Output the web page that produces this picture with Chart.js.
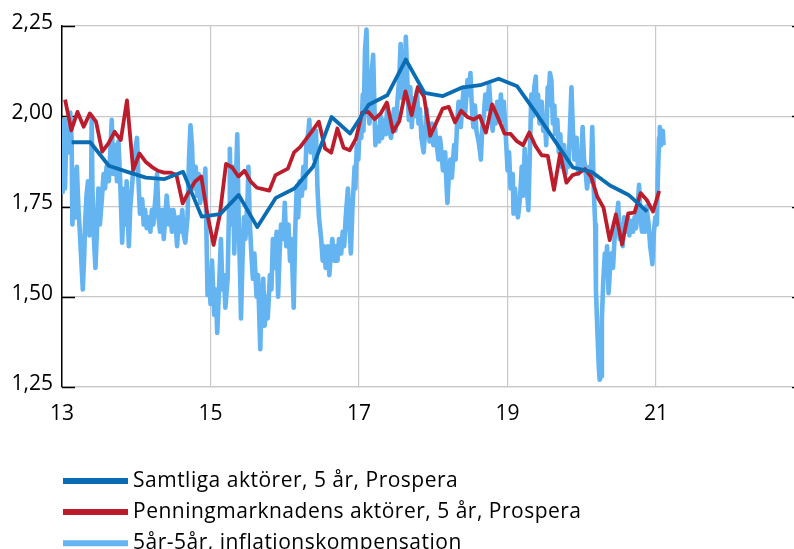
<!DOCTYPE html>
<html>
<head>
<meta charset="utf-8">
<script src="https://cdn.jsdelivr.net/npm/chart.js@4.4.1/dist/chart.umd.min.js"></script>
<style>
  html, body { margin: 0; padding: 0; background: #fff; }
  canvas { display: block; }
</style>
</head>
<body>
<canvas id="chart" width="794" height="549" style="width:794px;height:549px"></canvas>
<script>
// axis ticks
var xTicks = [13, 15, 17, 19, 21];
var xTickLabels = ['13', '15', '17', '19', '21'];
var yTicks = [1.25, 1.5, 1.75, 2.0, 2.25];
var yTickLabels = ['1,25', '1,50', '1,75', '2,00', '2,25'];

// Samtliga aktörer, 5 år (quarterly)
var samtligaYears = [13.13, 13.38, 13.63, 13.88, 14.13, 14.38, 14.63, 14.88,
  15.13, 15.38, 15.63, 15.88, 16.13, 16.38, 16.63, 16.88,
  17.13, 17.38, 17.63, 17.88, 18.13, 18.38, 18.63, 18.88,
  19.13, 19.38, 19.63, 19.88, 20.13, 20.38, 20.63, 20.88];
var samtligaValues = [1.928, 1.928, 1.863, 1.846, 1.830, 1.826, 1.846, 1.722,
  1.729, 1.782, 1.693, 1.774, 1.800, 1.860, 1.998, 1.952,
  2.032, 2.058, 2.157, 2.065, 2.056, 2.079, 2.086, 2.104,
  2.083, 2.010, 1.934, 1.858, 1.846, 1.808, 1.782, 1.736];

// Penningmarknadens aktörer, 5 år (monthly, jan 2013 - jan 2021)
var penningValues = [
  2.046, 1.961, 2.012, 1.971, 2.008, 1.985, 1.902, 1.925, 1.957, 1.934, 2.044, 1.851,
  1.897, 1.874, 1.860, 1.849, 1.844, 1.844, 1.837, 1.759, 1.791, 1.819, 1.833, 1.727,
  1.644, 1.727, 1.868, 1.858, 1.833, 1.849, 1.819, 1.802, 1.798, 1.794, 1.837, 1.846,
  1.855, 1.900, 1.915, 1.938, 1.961, 1.985, 1.911, 1.899, 1.966, 1.913, 1.906, 1.938,
  2.010, 2.012, 1.992, 2.008, 2.038, 1.957, 1.986, 2.069, 2.003, 2.081, 2.054, 1.946,
  1.983, 2.021, 2.026, 1.983, 2.015, 1.998, 1.991, 2.001, 1.955, 2.033, 1.994, 1.952,
  1.951, 1.931, 1.920, 1.955, 1.918, 1.892, 1.890, 1.796, 1.897, 1.816, 1.837, 1.842,
  1.854, 1.832, 1.777, 1.747, 1.657, 1.728, 1.645, 1.731, 1.733, 1.787, 1.768, 1.736,
  1.793];
var penningYears = penningValues.map(function (v, i) { return 13 + (i + 0.5) / 12; });

// 5år-5år, inflationskompensation (daily)
var inflationYears = [
  13.00, 13.01, 13.03, 13.04, 13.06, 13.09, 13.11, 13.13, 13.14, 13.16,
  13.18, 13.20, 13.22, 13.24, 13.26, 13.28, 13.30, 13.31, 13.33, 13.35,
  13.37, 13.39, 13.40, 13.41, 13.43, 13.45, 13.47, 13.49, 13.51, 13.54,
  13.56, 13.58, 13.60, 13.63, 13.65, 13.67, 13.69, 13.72, 13.74, 13.76,
  13.78, 13.80, 13.81, 13.84, 13.86, 13.87, 13.90, 13.92, 13.94, 13.97,
  14.01, 14.03, 14.05, 14.08, 14.10, 14.12, 14.14, 14.17, 14.19, 14.21,
  14.23, 14.26, 14.28, 14.30, 14.32, 14.35, 14.37, 14.39, 14.41, 14.44,
  14.46, 14.48, 14.50, 14.53, 14.55, 14.57, 14.59, 14.62, 14.64, 14.66,
  14.69, 14.71, 14.73, 14.75, 14.77, 14.80, 14.82, 14.84, 14.86, 14.89,
  14.91, 14.93, 14.95, 14.96, 14.98, 15.00,
  15.02, 15.05, 15.07, 15.09, 15.11, 15.14, 15.16, 15.18, 15.20, 15.23,
  15.25, 15.26, 15.28, 15.30, 15.32, 15.34, 15.36, 15.38, 15.40, 15.41,
  15.43, 15.45, 15.47, 15.50, 15.51, 15.53, 15.55, 15.57, 15.59, 15.62,
  15.64, 15.67, 15.68, 15.71, 15.73, 15.75, 15.77, 15.80, 15.82, 15.84,
  15.86, 15.89, 15.91, 15.93, 15.95, 15.98, 16.00, 16.02, 16.05, 16.07,
  16.09, 16.12, 16.14, 16.16, 16.18, 16.20, 16.23, 16.25, 16.27, 16.29,
  16.32, 16.33, 16.35, 16.37, 16.40, 16.42, 16.44, 16.46, 16.49, 16.51,
  16.53, 16.55, 16.58, 16.60, 16.62, 16.64, 16.67, 16.69, 16.71, 16.73,
  16.76, 16.78, 16.80, 16.82, 16.85, 16.87, 16.89, 16.91, 16.94, 16.95,
  16.97, 16.99, 17.01, 17.03, 17.05, 17.06, 17.08,
  17.10, 17.12, 17.14, 17.16, 17.17, 17.19, 17.21, 17.22, 17.25, 17.27,
  17.29, 17.31, 17.34, 17.36, 17.38, 17.40, 17.43, 17.45, 17.47, 17.49,
  17.52, 17.54, 17.56, 17.58, 17.60, 17.61, 17.63, 17.65, 17.67, 17.69,
  17.71, 17.73, 17.75, 17.78, 17.80, 17.82, 17.84, 17.87, 17.89, 17.91,
  17.93, 17.95, 17.98, 18.00, 18.02, 18.04, 18.07, 18.09, 18.11, 18.13,
  18.16, 18.18, 18.19, 18.21, 18.23, 18.25, 18.28, 18.30, 18.32, 18.34,
  18.37, 18.39, 18.41, 18.43, 18.46, 18.48, 18.50, 18.52, 18.54, 18.56,
  18.58, 18.61, 18.63, 18.64, 18.66, 18.68, 18.70, 18.73, 18.75, 18.78,
  18.80, 18.82, 18.84, 18.86, 18.89, 18.91, 18.93, 18.95, 18.98, 19.00,
  19.02, 19.04, 19.07, 19.08,
  19.10, 19.12, 19.14, 19.17, 19.19, 19.21, 19.23, 19.26, 19.28, 19.30,
  19.32, 19.34, 19.36, 19.38, 19.39, 19.41, 19.43, 19.46, 19.48, 19.50,
  19.52, 19.54, 19.55, 19.57, 19.59, 19.61, 19.63, 19.64, 19.67, 19.69,
  19.71, 19.73, 19.76, 19.78, 19.80, 19.82, 19.85, 19.86, 19.88, 19.90,
  19.93, 19.95, 19.97, 19.99, 20.01, 20.03, 20.05, 20.07, 20.10, 20.12,
  20.14, 20.16, 20.18, 20.19, 20.21, 20.23, 20.24, 20.26, 20.27, 20.29,
  20.31, 20.32, 20.34, 20.36, 20.38, 20.40, 20.42, 20.44, 20.46, 20.49,
  20.51, 20.53, 20.55, 20.57, 20.60, 20.62, 20.64, 20.66, 20.69, 20.71,
  20.73, 20.75, 20.77, 20.79, 20.81, 20.83, 20.85, 20.87, 20.90, 20.92,
  20.94, 20.95, 20.97, 20.99, 21.01, 21.02, 21.04, 21.05, 21.07, 21.09, 21.10];
var inflationValues = [
  1.90, 1.79, 1.99, 1.80, 1.96, 1.90, 2.01, 1.93, 1.70, 1.85,
  1.72, 1.86, 1.75, 1.68, 1.60, 1.52, 1.62, 1.70, 1.78, 1.82,
  1.67, 1.75, 2.00, 1.80, 1.66, 1.58, 1.68, 1.80, 1.70, 1.78,
  1.84, 1.80, 1.86, 1.82, 1.90, 1.99, 1.84, 1.92, 1.82, 1.93,
  1.84, 1.72, 1.65, 1.80, 1.70, 1.82, 1.64, 1.75, 1.80, 1.88,
  1.94, 1.82, 1.73, 1.77, 1.70, 1.74, 1.69, 1.72, 1.68, 1.74,
  1.70, 1.78, 1.84, 1.72, 1.68, 1.74, 1.66, 1.72, 1.78, 1.70,
  1.74, 1.68, 1.74, 1.70, 1.64, 1.72, 1.68, 1.74, 1.67, 1.65,
  1.72, 1.88, 1.975, 1.92, 1.80, 1.86, 1.78, 1.84, 1.76, 1.80,
  1.78, 1.855, 1.62, 1.505, 1.56, 1.48,
  1.60, 1.45, 1.52, 1.40, 1.50, 1.66, 1.52, 1.56, 1.47, 1.55,
  1.75, 1.91, 1.70, 1.86, 1.62, 1.80, 1.95, 1.70, 1.55, 1.44,
  1.60, 1.72, 1.66, 1.78, 1.86, 1.70, 1.62, 1.55, 1.62, 1.50,
  1.56, 1.355, 1.45, 1.55, 1.42, 1.50, 1.44, 1.56, 1.52, 1.66,
  1.58, 1.68, 1.50, 1.62, 1.70, 1.66, 1.76, 1.64, 1.70, 1.60,
  1.66, 1.47, 1.68, 1.80, 1.72, 1.82, 1.78, 1.86, 1.80, 1.92,
  1.96, 1.99, 1.90, 1.96, 1.88, 1.96, 1.80, 1.72, 1.66, 1.60,
  1.64, 1.58, 1.64, 1.56, 1.62, 1.66, 1.60, 1.64, 1.60, 1.66,
  1.62, 1.68, 1.64, 1.72, 1.80, 1.70, 1.62, 1.74, 1.86, 1.80,
  1.92, 1.88, 1.98, 1.94, 2.06, 1.96, 2.18,
  2.24, 2.02, 1.98, 2.05, 2.12, 2.17, 2.00, 1.92, 1.97, 1.93,
  2.00, 1.94, 1.99, 1.95, 2.03, 1.97, 1.94, 1.98, 2.02, 1.96,
  2.05, 2.10, 2.20, 2.05, 2.15, 2.07, 2.22, 2.10, 1.99, 2.08,
  1.97, 2.05, 2.00, 2.07, 1.98, 2.02, 1.94, 1.90, 1.96, 2.02,
  1.97, 1.93, 1.98, 1.92, 1.97, 1.93, 1.88, 1.94, 1.90, 1.85,
  1.90, 1.80, 1.76, 1.84, 1.88, 1.83, 1.92, 1.88, 1.98, 2.04,
  1.97, 2.03, 2.08, 2.01, 2.10, 2.06, 2.12, 2.02, 1.97, 2.03,
  1.96, 1.93, 1.90, 1.88, 1.97, 2.00, 2.06, 2.02, 2.09, 2.00,
  1.96, 2.02, 1.98, 2.04, 2.00, 2.06, 1.99, 2.04, 1.93, 1.85,
  1.90, 1.80, 1.84, 1.73,
  1.80, 1.74, 1.72, 1.78, 1.86, 1.78, 1.91, 1.80, 1.74, 1.90,
  2.06, 2.00, 2.08, 2.11, 2.02, 2.06, 1.98, 2.04, 1.96, 2.00,
  1.92, 2.08, 2.03, 2.12, 2.10, 1.98, 2.03, 1.95, 1.99, 1.90,
  1.95, 1.86, 1.92, 1.84, 1.90, 1.86, 2.02, 2.08, 1.96, 1.88,
  1.94, 1.84, 1.90, 1.85, 1.97, 1.88, 1.85, 1.80, 1.86, 1.82,
  1.97, 1.80, 1.70, 1.52, 1.40, 1.30, 1.27, 1.28, 1.44, 1.55,
  1.62, 1.56, 1.64, 1.51, 1.58, 1.62, 1.58, 1.66, 1.70, 1.76,
  1.66, 1.70, 1.64, 1.72, 1.68, 1.72, 1.67, 1.71, 1.68, 1.72,
  1.69, 1.74, 1.81, 1.72, 1.68, 1.74, 1.68, 1.75, 1.70, 1.64,
  1.61, 1.59, 1.68, 1.72, 1.70, 1.80, 1.94, 1.97, 1.92, 1.96, 1.92];

var seriesNames = ['Samtliga aktörer, 5 år, Prospera', 'Penningmarknadens aktörer, 5 år, Prospera', '5år-5år, inflationskompensation'];
var seriesColors = ['#0a6db3', '#bb1d2c', '#63b4f0'];

var FONT = { family: '"Open Sans", "Liberation Sans", sans-serif', size: 21 };

function toPoints(xs, ys) {
  return ys.map(function (v, i) { return { x: xs[i], y: v }; });
}

// short black ticks pointing into the plot on the left axis
var innerTicks = {
  id: 'innerTicks',
  beforeDatasetsDraw: function (chart) {
    var ctx = chart.ctx, area = chart.chartArea, y = chart.scales.y;
    ctx.save();
    ctx.strokeStyle = '#000';
    ctx.lineWidth = 1.5;
    yTicks.forEach(function (v) {
      var py = Math.round(y.getPixelForValue(v)) + 0.5;
      ctx.beginPath();
      ctx.moveTo(area.left, py);
      ctx.lineTo(area.left + 13, py);
      ctx.moveTo(area.right, py);
      ctx.lineTo(area.right + 3, py);
      ctx.stroke();
    });
    ctx.restore();
  }
};

// legend as a left aligned column under the plot
var columnLegend = {
  id: 'columnLegend',
  afterDraw: function (chart) {
    var ctx = chart.ctx, area = chart.chartArea;
    ctx.save();
    ctx.font = FONT.size + 'px ' + FONT.family;
    ctx.textBaseline = 'alphabetic';
    ctx.textAlign = 'left';
    if ('letterSpacing' in ctx) ctx.letterSpacing = '0.5px';
    seriesNames.forEach(function (name, row) {
      var ly = area.bottom + 94 + row * 31.1;
      ctx.strokeStyle = seriesColors[row];
      ctx.lineWidth = 6;
      ctx.beginPath();
      ctx.moveTo(area.left + 1, ly);
      ctx.lineTo(area.left + 66, ly);
      ctx.stroke();
      ctx.fillStyle = '#000';
      ctx.fillText(name, area.left + 71, ly + 6);
    });
    ctx.restore();
  }
};

new Chart(document.getElementById('chart').getContext('2d'), {
  type: 'line',
  data: {
    datasets: [{
      label: seriesNames[0],
      data: toPoints(samtligaYears, samtligaValues),
      borderColor: seriesColors[0],
      borderWidth: 3.8,
      order: 0
    }, {
      label: seriesNames[1],
      data: toPoints(penningYears, penningValues),
      borderColor: seriesColors[1],
      borderWidth: 3.8,
      order: 1
    }, {
      label: seriesNames[2],
      data: toPoints(inflationYears, inflationValues),
      borderColor: seriesColors[2],
      borderWidth: 4.6,
      order: 2
    }]
  },
  options: {
    responsive: false,
    animation: false,
    devicePixelRatio: 1,
    layout: { padding: { top: 26, right: 2, bottom: 122, left: 0 } },
    elements: {
      point: { radius: 0, hoverRadius: 0 },
      line: { tension: 0, fill: false, borderJoinStyle: 'round', borderCapStyle: 'butt' }
    },
    plugins: {
      legend: { display: false },
      tooltip: { enabled: false }
    },
    scales: {
      x: {
        type: 'linear',
        min: 13,
        max: 22.83,
        afterBuildTicks: function (scale) {
          scale.ticks = xTicks.map(function (v) { return { value: v }; });
        },
        afterFit: function (scale) { scale.height = 40; },
        ticks: {
          autoSkip: false,
          maxRotation: 0,
          padding: 14,
          color: '#000',
          font: FONT,
          callback: function (v, i) { return xTickLabels[i]; }
        },
        grid: { color: '#c8c8c8', lineWidth: 1.2, drawTicks: false },
        border: { color: '#c8c8c8', width: 1.2 }
      },
      y: {
        min: 1.25,
        max: 2.25,
        afterBuildTicks: function (scale) {
          scale.ticks = yTicks.map(function (v) { return { value: v }; });
        },
        afterFit: function (scale) { scale.width = 62; },
        ticks: {
          padding: 9,
          labelOffset: -3,
          color: '#000',
          font: FONT,
          callback: function (v, i) { return yTickLabels[i]; }
        },
        grid: { color: '#c8c8c8', lineWidth: 1.2, drawTicks: false },
        border: { color: '#000', width: 1.5 }
      }
    }
  },
  plugins: [innerTicks, columnLegend]
});
</script>
</body>
</html>
